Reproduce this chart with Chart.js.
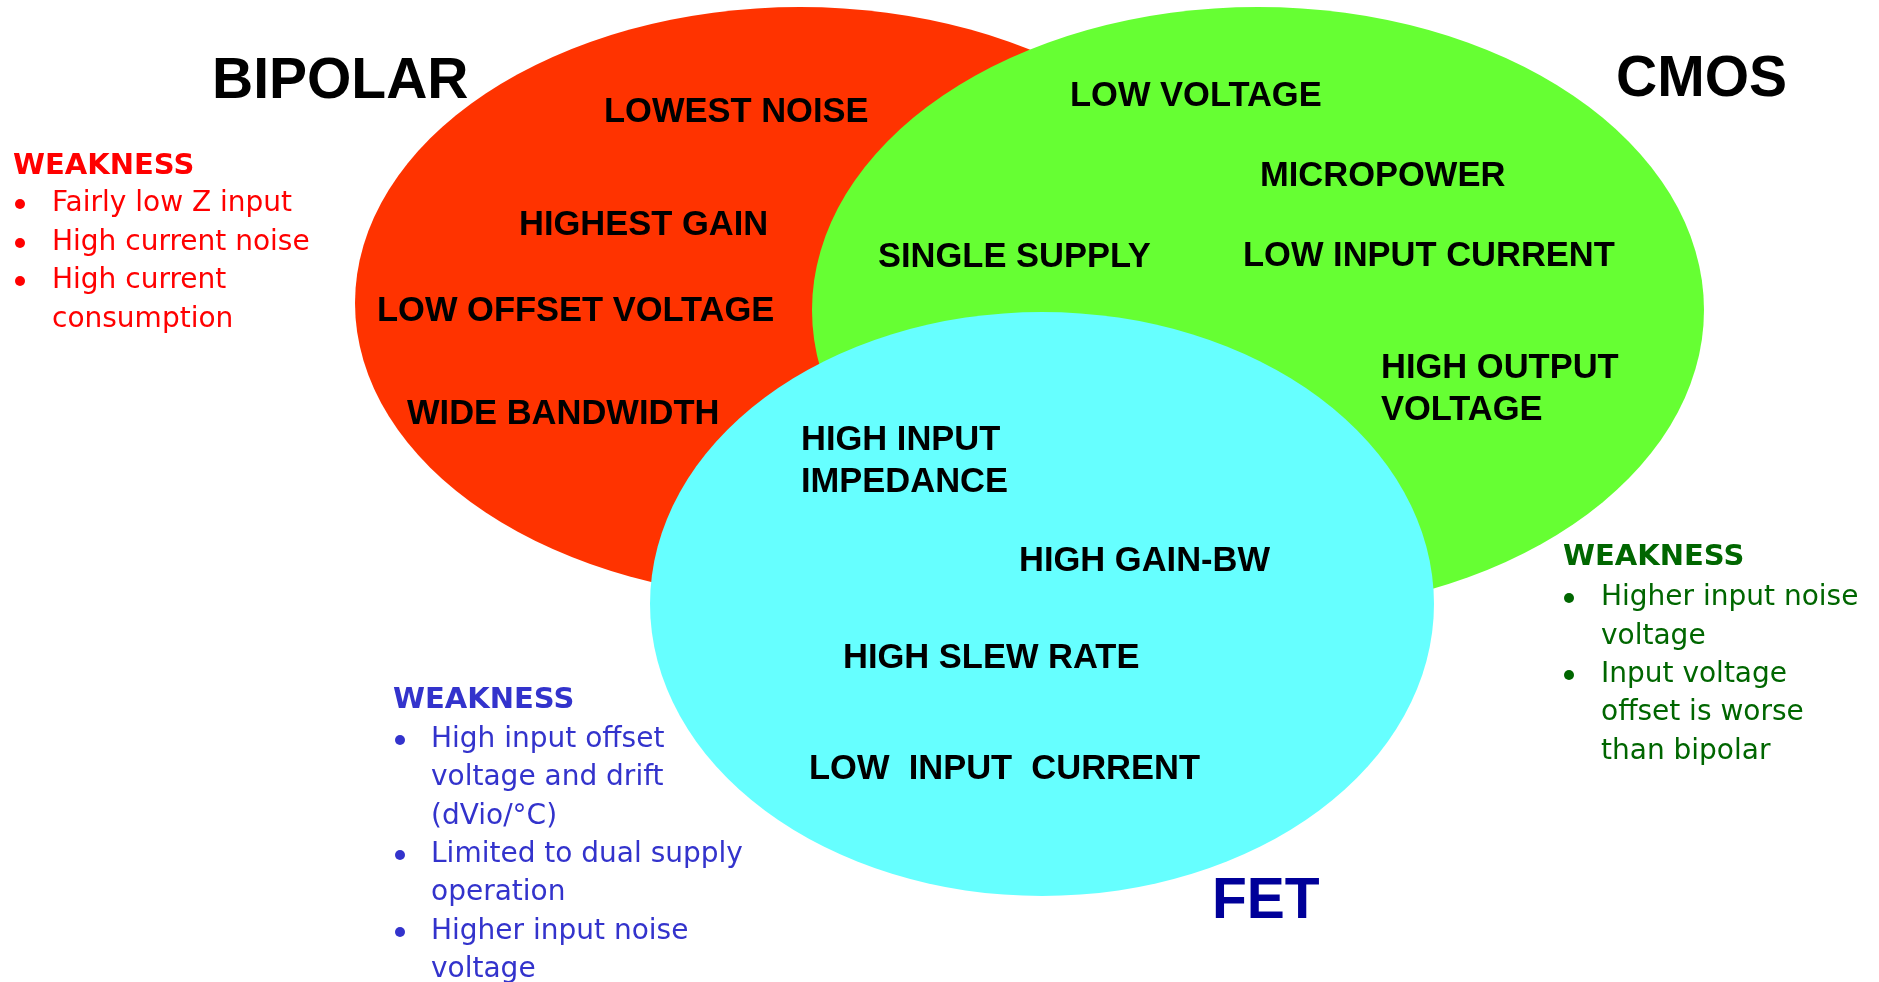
<!DOCTYPE html>
<html>
<head>
<meta charset="utf-8">
<script src="https://cdn.jsdelivr.net/npm/chart.js@4/dist/chart.umd.min.js"></script>
<style>
html,body{margin:0;padding:0;background:#fff;}
#wrap{width:1879px;height:982px;}
</style>
</head>
<body>
<div id="wrap"><canvas id="c" width="1879" height="982"></canvas></div>
<script>
// ---- Venn sets (ellipse centre and radii in diagram units) ----
const setNames   = ['BIPOLAR', 'CMOS', 'FET'];
const setCenterX = [800, 1258, 1042];
const setCenterY = [303, 310, 604];
const setRadiusX = [445, 446, 392];
const setRadiusY = [296, 303, 292];
const setColors  = ['#FF3300', '#66FF33', '#66FFFF'];

// ---- Set titles ----
const titleText  = ['BIPOLAR', 'CMOS', 'FET'];
const titleX     = [212, 1616, 1212];
const titleY     = [82, 80, 902];
const titleColor = ['#000000', '#000000', '#000099'];

// ---- Feature labels ----
const featureText = ['LOWEST NOISE', 'HIGHEST GAIN', 'LOW OFFSET VOLTAGE', 'WIDE BANDWIDTH',
  'LOW VOLTAGE', 'MICROPOWER', 'SINGLE SUPPLY', 'LOW INPUT CURRENT', 'HIGH OUTPUT', 'VOLTAGE',
  'HIGH INPUT', 'IMPEDANCE', 'HIGH GAIN-BW', 'HIGH SLEW RATE', 'LOW  INPUT  CURRENT'];
const featureX = [604, 519, 377, 407, 1070, 1260, 878, 1243, 1381, 1381, 801, 801, 1019, 843, 809];
const featureY = [112, 225, 311, 414, 96, 176, 257, 256, 368, 410, 440, 482, 561, 658, 769];

// ---- Weakness blocks ----
const weakHeadX = [13, 1563, 393];
const weakHeadY = [166, 557, 700];
const weakColor = ['#FF0000', '#006600', '#3333CC'];
const weakLines = [
  ['Fairly low Z input', 'High current noise', 'High current', 'consumption'],
  ['Higher input noise', 'voltage', 'Input voltage', 'offset is worse', 'than bipolar'],
  ['High input offset', 'voltage and drift', '(dVio/°C)', 'Limited to dual supply', 'operation', 'Higher input noise', 'voltage']
];
const weakBullet = [
  [true, true, true, false],
  [true, false, true, false, false],
  [true, false, false, true, false, true, false]
];
const weakLineY = [
  [204, 243, 281, 320],
  [598, 637, 675, 713, 752],
  [740, 778, 817, 855, 893, 932, 970]
];
const weakBulletX = [20, 1569, 400];
const weakTextX   = [52, 1601, 431];

const vennPlugin = {
  id: 'venn',
  beforeDatasetsDraw(chart) {
    const {ctx, scales: {x, y}} = chart;
    ctx.save();
    for (let i = 0; i < setNames.length; i++) {
      const cx = x.getPixelForValue(setCenterX[i]);
      const cy = y.getPixelForValue(setCenterY[i]);
      const rx = Math.abs(x.getPixelForValue(setCenterX[i] + setRadiusX[i]) - cx);
      const ry = Math.abs(y.getPixelForValue(setCenterY[i] + setRadiusY[i]) - cy);
      ctx.beginPath();
      ctx.ellipse(cx, cy, rx, ry, 0, 0, Math.PI * 2);
      ctx.fillStyle = setColors[i];
      ctx.fill();
    }
    ctx.restore();
  },
  afterDatasetsDraw(chart) {
    const {ctx, scales: {x, y}} = chart;
    ctx.save();
    ctx.textBaseline = 'middle';
    ctx.textAlign = 'left';
    // titles
    ctx.font = 'bold 57px "Liberation Sans", Arial, sans-serif';
    for (let i = 0; i < titleText.length; i++) {
      ctx.fillStyle = titleColor[i];
      ctx.fillText(titleText[i], x.getPixelForValue(titleX[i]), y.getPixelForValue(titleY[i]));
    }
    // features
    ctx.font = 'bold 34.5px "Liberation Sans", Arial, sans-serif';
    ctx.fillStyle = '#000000';
    for (let i = 0; i < featureText.length; i++) {
      ctx.fillText(featureText[i], x.getPixelForValue(featureX[i]), y.getPixelForValue(featureY[i]));
    }
    // weaknesses
    for (let b = 0; b < weakLines.length; b++) {
      ctx.fillStyle = weakColor[b];
      ctx.font = 'bold 29px "DejaVu Sans", Verdana, sans-serif';
      ctx.fillText('WEAKNESS', x.getPixelForValue(weakHeadX[b]), y.getPixelForValue(weakHeadY[b]));
      ctx.font = '28px "DejaVu Sans", Verdana, sans-serif';
      for (let j = 0; j < weakLines[b].length; j++) {
        const ly = y.getPixelForValue(weakLineY[b][j]);
        if (weakBullet[b][j]) {
          ctx.beginPath();
          ctx.arc(x.getPixelForValue(weakBulletX[b]), ly, 5, 0, Math.PI * 2);
          ctx.fill();
        }
        ctx.fillText(weakLines[b][j], x.getPixelForValue(weakTextX[b]), ly);
      }
    }
    ctx.restore();
  }
};

new Chart(document.getElementById('c'), {
  type: 'scatter',
  data: {
    datasets: [{
      label: 'Sets',
      data: setCenterX.map((v, i) => ({x: v, y: setCenterY[i]})),
      pointRadius: 0,
      pointHoverRadius: 0
    }]
  },
  options: {
    responsive: false,
    animation: false,
    devicePixelRatio: 1,
    layout: {padding: 0},
    plugins: {legend: {display: false}, tooltip: {enabled: false}},
    events: [],
    scales: {
      x: {type: 'linear', min: 0, max: 1879, display: false},
      y: {type: 'linear', min: 0, max: 982, reverse: true, display: false}
    }
  },
  plugins: [vennPlugin]
});
</script>
</body>
</html>
